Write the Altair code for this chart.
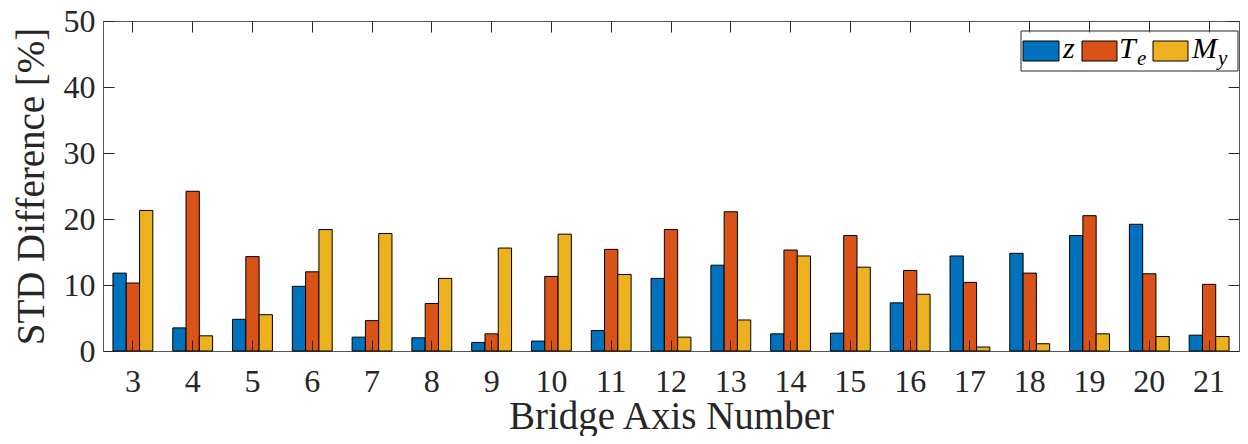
import altair as alt
import pandas as pd

axis_numbers = list(range(3, 22))
series_names = ["z", "Te", "My"]
z_values = [11.8, 3.5, 4.8, 9.8, 2.1, 2.0, 1.3, 1.5, 3.1, 11.0, 13.0, 2.6, 2.7, 7.3, 14.4, 14.8, 17.5, 19.2, 2.4]
te_values = [10.3, 24.2, 14.3, 12.0, 4.6, 7.2, 2.6, 11.3, 15.4, 18.4, 21.1, 15.3, 17.5, 12.2, 10.4, 11.8, 20.5, 11.7, 10.1]
my_values = [21.3, 2.3, 5.5, 18.4, 17.8, 11.0, 15.6, 17.7, 11.6, 2.1, 4.7, 14.4, 12.7, 8.6, 0.6, 1.1, 2.6, 2.2, 2.2]
y_ticks = [0, 10, 20, 30, 40, 50]
colors = ["#0072BD", "#D95319", "#EDB120"]

rows = []
for name, vals in zip(series_names, [z_values, te_values, my_values]):
    for a, v in zip(axis_numbers, vals):
        rows.append({"axis": a, "series": name, "value": v})
df = pd.DataFrame(rows)

FONT = "Liberation Serif"
ITALIC_FONT = "Liberation Serif, DejaVu Serif, serif"
INK = "#262626"
W, H = 1136, 330

x_scale = alt.Scale(type="band", domain=axis_numbers, paddingInner=0, paddingOuter=0)
y_scale = alt.Scale(domain=[0, 50], nice=False)

bars = alt.Chart(df).mark_bar(stroke="black", strokeWidth=1).encode(
    x=alt.X("axis:O", scale=x_scale,
            axis=alt.Axis(orient="bottom", title="Bridge Axis Number", labelAngle=0,
                          offset=-11, tickSize=11, domain=False, grid=False, labelPadding=15,
                          titleBaseline="alphabetic", titleY=88, zindex=1)),
    xOffset=alt.XOffset("series:N", sort=series_names,
                        scale=alt.Scale(domain=series_names, paddingInner=0, paddingOuter=0.75)),
    y=alt.Y("value:Q", scale=y_scale,
            axis=alt.Axis(orient="left", title="STD Difference [%]", values=y_ticks,
                          offset=-11, tickSize=11, domain=False, grid=False, labelPadding=8,
                          titleBaseline="alphabetic", titleX=-71, zindex=1)),
    color=alt.Color("series:N", scale=alt.Scale(domain=series_names, range=colors), legend=None),
)

mirror = alt.Chart(df).mark_point(opacity=0).encode(
    x=alt.X("axis:O", scale=x_scale,
            axis=alt.Axis(orient="top", labels=False, title="", offset=-11, tickSize=11,
                          domain=False, grid=False, zindex=1)),
    y=alt.Y("value:Q", scale=y_scale,
            axis=alt.Axis(orient="right", labels=False, title="", values=y_ticks, offset=-11,
                          tickSize=11, domain=False, grid=False, zindex=1)),
)

one = pd.DataFrame({"k": [0]})
legend_layers = [
    alt.Chart(one).mark_rect(fill="white", stroke=INK, strokeWidth=1).encode(
        x=alt.value(918), x2=alt.value(1135), y=alt.value(10), y2=alt.value(50))
]
swatch_x = [(920, 956), (979, 1014), (1050, 1085)]
for (x1, x2), col in zip(swatch_x, colors):
    legend_layers.append(
        alt.Chart(one).mark_rect(fill=col, stroke="black", strokeWidth=1).encode(
            x=alt.value(x1), x2=alt.value(x2), y=alt.value(20), y2=alt.value(40)))

texts = [("z", 960, 37, 30), ("T", 1016, 37, 30), ("e", 1034, 44, 21),
         ("M", 1089, 37, 30), ("y", 1115, 44, 21)]
for t, tx, ty, fs in texts:
    legend_layers.append(
        alt.Chart(one).mark_text(text=t, font=ITALIC_FONT, fontStyle="italic", fontSize=fs,
                                 align="left", baseline="alphabetic", color="black").encode(
            x=alt.value(tx), y=alt.value(ty)))

chart = alt.layer(bars, mirror, *legend_layers).properties(
    width=W, height=H,
    autosize=alt.AutoSizeParams(type="none"),
    padding={"left": 95, "top": 13, "right": 1, "bottom": 85},
).configure_view(stroke="#555555", strokeWidth=1).configure_axis(
    labelFont=FONT, titleFont=FONT, labelFontSize=32, titleFontSize=39,
    labelColor=INK, titleColor=INK, tickColor=INK, titleFontWeight="normal",
    tickWidth=1,
)

chart.save("out.html", embed_options={"renderer": "svg", "actions": False})
